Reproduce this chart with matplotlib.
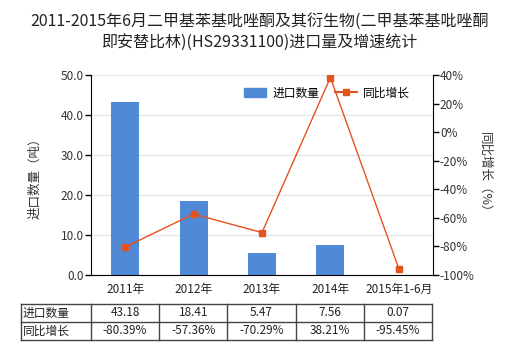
import matplotlib
matplotlib.use("Agg")
import matplotlib.pyplot as plt
from matplotlib.lines import Line2D
from matplotlib.patches import Patch

plt.rcParams['font.family'] = ['Noto Sans CJK SC', 'DejaVu Sans']

categories = ["2011年", "2012年", "2013年", "2014年", "2015年1-6月"]
volume = [43.18, 18.41, 5.47, 7.56, 0.07]
growth = [-80.39, -57.36, -70.29, 38.21, -95.45]
volume_labels = ["43.18", "18.41", "5.47", "7.56", "0.07"]
growth_labels = ["-80.39%", "-57.36%", "-70.29%", "38.21%", "-95.45%"]
left_ticks = [0, 10, 20, 30, 40, 50]
right_ticks = [-100, -80, -60, -40, -20, 0, 20, 40]
title = "2011-2015年6月二甲基苯基吡唑酮及其衍生物(二甲基苯基吡唑酮\n即安替比林)(HS29331100)进口量及增速统计"

bar_color = "#5089D6"
line_color = "#E4531E"
W, H = 520, 350
fig = plt.figure(figsize=(W/100, H/100), dpi=100)
ax = fig.add_axes([91/W, 1-275/H, (433-91)/W, 200/H])
x = list(range(len(categories)))
ax.bar(x, volume, width=0.41, color=bar_color, zorder=2)
ax.set_xlim(-0.5, len(categories)-0.5)
ax.set_ylim(0, 50)
ax.set_yticks(left_ticks)
ax.set_yticklabels([f"{v:.1f}" for v in left_ticks], fontsize=8.5, color="#333333")
ax.set_xticks(x)
ax.set_xticklabels(categories, fontsize=8.5, color="#222222")
ax.tick_params(axis='x', length=0, pad=6)
ax.tick_params(axis='y', length=4, width=1, color='black', pad=1)
ax.grid(axis='y', color="#E3E8EE", linewidth=1, zorder=0)
for s in ['top', 'right']:
    ax.spines[s].set_visible(False)
ax.spines['left'].set_color('black')
ax.spines['bottom'].set_color('black')
ax.set_ylabel("进口数量（吨）", fontsize=9, color="#333333", labelpad=14)

ax2 = ax.twinx()
ax2.plot(x, growth, color=line_color, linewidth=1, marker='s', markersize=4, zorder=3)
ax2.set_ylim(-100, 40)
ax2.set_yticks(right_ticks)
ax2.set_yticklabels([f"{v}%" for v in right_ticks], fontsize=8.5, color="#333333")
ax2.tick_params(axis='y', length=4, width=1, color='black', pad=1)
for s in ['top', 'left', 'bottom']:
    ax2.spines[s].set_visible(False)
ax2.spines['right'].set_color('black')
ax2.set_ylabel("同比增长（%）", fontsize=9, color="#333333", rotation=-90, labelpad=12)

handles = [Patch(color=bar_color), Line2D([0], [0], color=line_color, marker='s', markersize=4, linewidth=1.5)]
fig.legend(handles, ["进口数量", "同比增长"], loc='center', bbox_to_anchor=(327/W, 1-93/H),
           ncol=2, frameon=False, fontsize=8.5, handlelength=1.9, columnspacing=1.3, handletextpad=0.5)

fig.text(0.5, 1-13/H, title, ha='center', va='top', fontsize=11.5, color="#222222", linespacing=1.4)

# data table
tab_left, tab_right = 21, 432
first_w = 70
row_tops = [304, 322, 340]
col_edges = [tab_left, tab_left+first_w]
cw = (tab_right - tab_left - first_w) / 5
for i in range(5):
    col_edges.append(tab_left + first_w + cw*(i+1))
def fx(px): return px / W
def fy(py): return 1 - py / H
for yy in row_tops:
    fig.add_artist(Line2D([fx(tab_left), fx(tab_right)], [fy(yy), fy(yy)], color="#444444", linewidth=1))
for xx in col_edges:
    fig.add_artist(Line2D([fx(xx), fx(xx)], [fy(row_tops[0]), fy(row_tops[-1])], color="#444444", linewidth=1))
rows = [("进口数量", volume_labels), ("同比增长", growth_labels)]
for r, (name, vals) in enumerate(rows):
    yc = (row_tops[r] + row_tops[r+1]) / 2
    fig.text(fx(tab_left+2), fy(yc), name, ha='left', va='center', fontsize=8.5, color="#222222")
    for i, v in enumerate(vals):
        xc = (col_edges[i+1] + col_edges[i+2]) / 2
        fig.text(fx(xc), fy(yc), v, ha='center', va='center', fontsize=8.5, color="#222222")

fig.savefig("out.png", dpi=100)
